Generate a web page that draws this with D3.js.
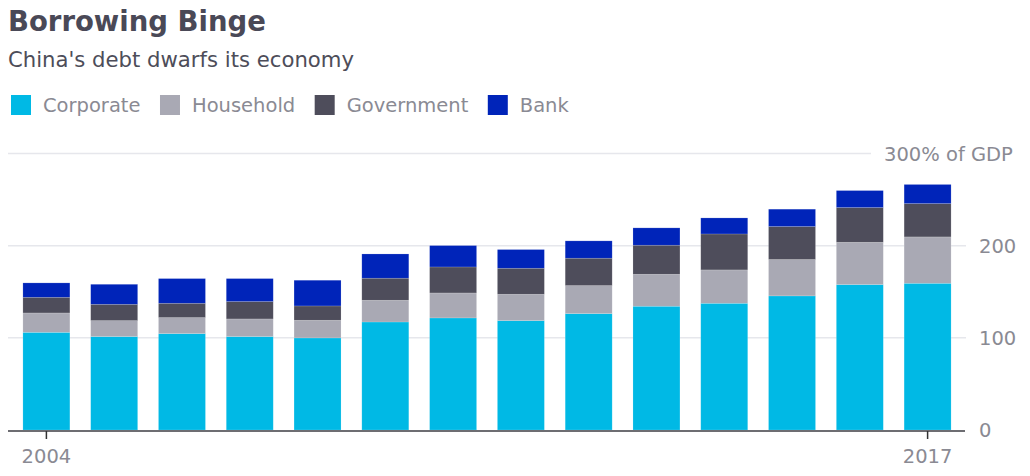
<!DOCTYPE html>
<html>
<head>
<meta charset="utf-8">
<script src="https://cdn.jsdelivr.net/npm/d3@7"></script>
<style>
  body { margin: 0; background: #fff; }
  svg { display: block; font-family: "DejaVu Sans", sans-serif; }
</style>
</head>
<body>
<svg id="chart" width="1030" height="476"></svg>
<script>
// data (% of GDP)
const years = [2004, 2005, 2006, 2007, 2008, 2009, 2010, 2011, 2012, 2013, 2014, 2015, 2016, 2017];
const corporate  = [106.0, 101.4, 104.6, 101.4, 99.9, 117.2, 121.6, 118.7, 126.3, 134.3, 137.5, 145.5, 157.8, 159.2];
const household  = [21.0, 17.3, 17.4, 19.1, 19.2, 23.6, 27.1, 28.6, 30.4, 34.7, 36.2, 39.5, 45.9, 50.3];
const government = [17.0, 17.7, 15.5, 18.9, 15.5, 23.9, 28.2, 28.2, 29.7, 31.5, 39.0, 35.8, 37.7, 36.2];
const bank       = [15.6, 21.7, 26.8, 24.9, 27.9, 26.3, 23.2, 20.3, 18.8, 18.8, 17.4, 18.8, 18.4, 20.7];

const seriesNames = ["Corporate", "Household", "Government", "Bank"];
const seriesColors = ["#00b9e5", "#a9a9b4", "#4e4d5b", "#0024b9"];
const yTicks = [0, 100, 200, 300];
const xLabels = [2004, 2017];

const rows = years.map((yr, i) => ({
  year: yr,
  Corporate: corporate[i],
  Household: household[i],
  Government: government[i],
  Bank: bank[i]
}));

const svg = d3.select("#chart");

//==title==//
svg.append("text")
  .attr("x", 8).attr("y", 31)
  .attr("font-size", 27.5).attr("font-weight", "bold")
  .attr("fill", "#4a4957")
  .text("Borrowing Binge");

svg.append("text")
  .attr("x", 8).attr("y", 67)
  .attr("font-size", 21.2)
  .attr("fill", "#4d4d59")
  .text("China's debt dwarfs its economy");

//==legend==//
let lx = 11;
seriesNames.forEach((name, i) => {
  svg.append("rect")
    .attr("x", lx).attr("y", 95)
    .attr("width", 20).attr("height", 20)
    .attr("fill", seriesColors[i]);
  const t = svg.append("text")
    .attr("x", lx + 32).attr("y", 112)
    .attr("font-size", 19.5)
    .attr("fill", "#8a8a93")
    .text(name);
  lx = lx + 32 + t.node().getComputedTextLength() + 19.5;
});

//==scales==//
const x = d3.scaleBand()
  .domain(years)
  .range([8, 966])
  .paddingInner(0.307)
  .paddingOuter(0.22);

const y = d3.scaleLinear()
  .domain([0, 300])
  .range([430, 153.5]);

//==grid + right axis labels==//
svg.selectAll(".grid")
  .data(yTicks.filter(d => d > 0))
  .enter()
  .append("line")
  .attr("x1", 8)
  .attr("x2", d => d === 300 ? 871 : 966)
  .attr("y1", d => y(d))
  .attr("y2", d => y(d))
  .attr("stroke", "#e6e7ec")
  .attr("stroke-width", 1.5);

svg.selectAll(".ylab")
  .data(yTicks)
  .enter()
  .append("text")
  .attr("x", d => d === 300 ? 884 : 979)
  .attr("y", d => y(d))
  .attr("dy", "0.36em")
  .attr("font-size", 19.5)
  .attr("fill", "#8a8a93")
  .text(d => d === 300 ? "300% of GDP" : d);

//==bars==//
const stack = d3.stack().keys(seriesNames);
const layers = stack(rows);

svg.selectAll(".layer")
  .data(layers)
  .enter()
  .append("g")
  .attr("fill", (d, i) => seriesColors[i])
  .selectAll("rect")
  .data(d => d)
  .enter()
  .append("rect")
  .attr("x", d => x(d.data.year))
  .attr("width", x.bandwidth())
  .attr("y", d => y(d[1]))
  .attr("height", d => y(d[0]) - y(d[1]))
  .attr("stroke", "#ffffff")
  .attr("stroke-opacity", 0.25)
  .attr("stroke-width", 0.6);

//==bottom axis==//
svg.append("line")
  .attr("x1", 8).attr("x2", 965)
  .attr("y1", y(0) + 1).attr("y2", y(0) + 1)
  .attr("stroke", "#6d6d72")
  .attr("stroke-width", 2);

const xAxis = svg.append("g")
  .attr("transform", `translate(0,${y(0) + 1})`)
  .call(d3.axisBottom(x).tickValues(xLabels).tickSize(8).tickSizeOuter(0).tickPadding(10));
xAxis.select(".domain").remove();
xAxis.selectAll(".tick line").attr("stroke", "#333").attr("stroke-width", 1.5);
xAxis.selectAll(".tick text")
  .attr("font-family", "DejaVu Sans, sans-serif")
  .attr("font-size", 19.5)
  .attr("fill", "#8a8a93");
</script>
</body>
</html>
